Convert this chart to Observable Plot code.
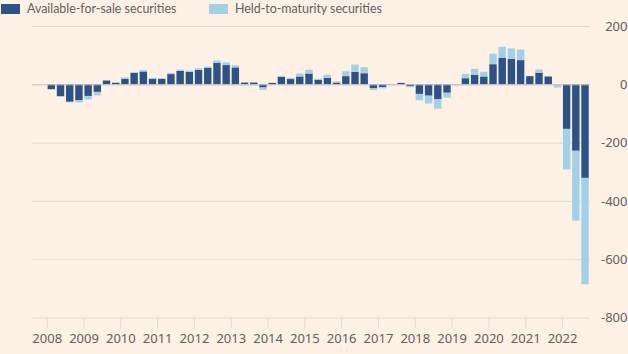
<!DOCTYPE html>
<html><head><meta charset="utf-8">
<script src="https://cdn.jsdelivr.net/npm/d3@7"></script>
<script src="https://cdn.jsdelivr.net/npm/@observablehq/plot@0.6"></script>
<style>
html,body{margin:0;padding:0;background:#fdf0e5;}
body{width:628px;height:354px;overflow:hidden;font-family:"Noto Sans",sans-serif;position:relative;}
#legend{position:absolute;left:0;top:0;width:628px;height:20px;font-family:Lato,sans-serif;font-size:12.4px;color:#66605c;z-index:2;}
.key{position:absolute;top:0;display:flex;align-items:center;height:17px;}
.sw{width:19px;height:10px;margin-right:7px;}
#chart svg{display:block;}
</style></head><body>
<div id="legend"></div><div id="chart"></div>
<script>
const seriesNames = ["Available-for-sale securities", "Held-to-maturity securities"];
const seriesColors = ["#2c5288", "#a2d1e7"];
const quarters = [
 "2008 Q1","2008 Q2","2008 Q3","2008 Q4","2009 Q1","2009 Q2","2009 Q3","2009 Q4",
 "2010 Q1","2010 Q2","2010 Q3","2010 Q4","2011 Q1","2011 Q2","2011 Q3","2011 Q4",
 "2012 Q1","2012 Q2","2012 Q3","2012 Q4","2013 Q1","2013 Q2","2013 Q3","2013 Q4",
 "2014 Q1","2014 Q2","2014 Q3","2014 Q4","2015 Q1","2015 Q2","2015 Q3","2015 Q4",
 "2016 Q1","2016 Q2","2016 Q3","2016 Q4","2017 Q1","2017 Q2","2017 Q3","2017 Q4",
 "2018 Q1","2018 Q2","2018 Q3","2018 Q4","2019 Q1","2019 Q2","2019 Q3","2019 Q4",
 "2020 Q1","2020 Q2","2020 Q3","2020 Q4","2021 Q1","2021 Q2","2021 Q3","2021 Q4",
 "2022 Q1","2022 Q2","2022 Q3"];
const afs = [
 -17,-41,-60,-55,-40,-26,13,5,
 19,39,44,19,19,35,46,43,
 49,56,73,66,58,6,6,-11,
 5,25,18,27,37,16,22,6,
 28,43,38,-14,-10,1,5,-7,
 -33,-39,-51,-29,-1,21,33,27,
 69,91,87,83,28,40,27,-1,
 -153,-228,-321];
const htm = [
 0,-1,-2,-7,-12,-12,0,3,
 5,3,5,3,0,4,4,4,
 6,5,9,9,7,-4,-4,-8,
 0,4,4,10,13,3,11,4,
 17,25,21,-6,-4,0,0,-3,
 -22,-27,-33,-17,-3,15,20,16,
 36,38,36,36,0,11,1,-10,
 -139,-240,-365];
const yTicks = [200, 0, -200, -400, -600, -800];
const yearTicks = [2008,2009,2010,2011,2012,2013,2014,2015,2016,2017,2018,2019,2020,2021,2022];

const data = [];
quarters.forEach((q, i) => {
  const [yr, qq] = q.split(" Q").map(Number);
  const x1 = yr + (qq - 1) / 4;
  data.push({x1, x2: x1 + 0.25, series: seriesNames[0], value: afs[i]});
  data.push({x1, x2: x1 + 0.25, series: seriesNames[1], value: htm[i]});
});

const lg = document.getElementById("legend");
const lefts = [1, 209];
seriesNames.forEach((n, i) => {
  const k = document.createElement("div");
  k.className = "key"; k.style.left = lefts[i] + "px";
  k.innerHTML = `<span class="sw" style="background:${seriesColors[i]}"></span><span>${n}</span>`;
  lg.appendChild(k);
});

const grid = "#e2dad2";
const chart = Plot.plot({
  width: 628, height: 354,
  marginTop: 26, marginBottom: 36.5, marginLeft: 32, marginRight: 38,
  style: {background: "transparent", fontFamily: "'Noto Sans', sans-serif", fontSize: "13px", color: "#66605c"},
  x: {domain: [2007.6, 2022.76]},
  y: {domain: [-800, 200]},
  color: {domain: seriesNames, range: seriesColors},
  marks: [
    Plot.gridY(yTicks, {stroke: grid, strokeOpacity: 1}),
    Plot.rectY(data, {x1: "x1", x2: "x2", y: "value", fill: "series", insetLeft: 0.9, insetRight: 0.9}),
    Plot.ruleY([0], {stroke: "#cfc7bf"}),
    Plot.axisY(yTicks, {anchor: "right", tickSize: 0, textAnchor: "end", dx: 28, tickFormat: d => String(d), label: null, fill: "#66605c"}),
    Plot.axisX(yearTicks, {anchor: "bottom", tickSize: 11, tickPadding: 5, tickFormat: d => String(d), label: null, stroke: grid, fill: "#66605c"})
  ]
});
document.getElementById("chart").appendChild(chart);
</script>
</body></html>
